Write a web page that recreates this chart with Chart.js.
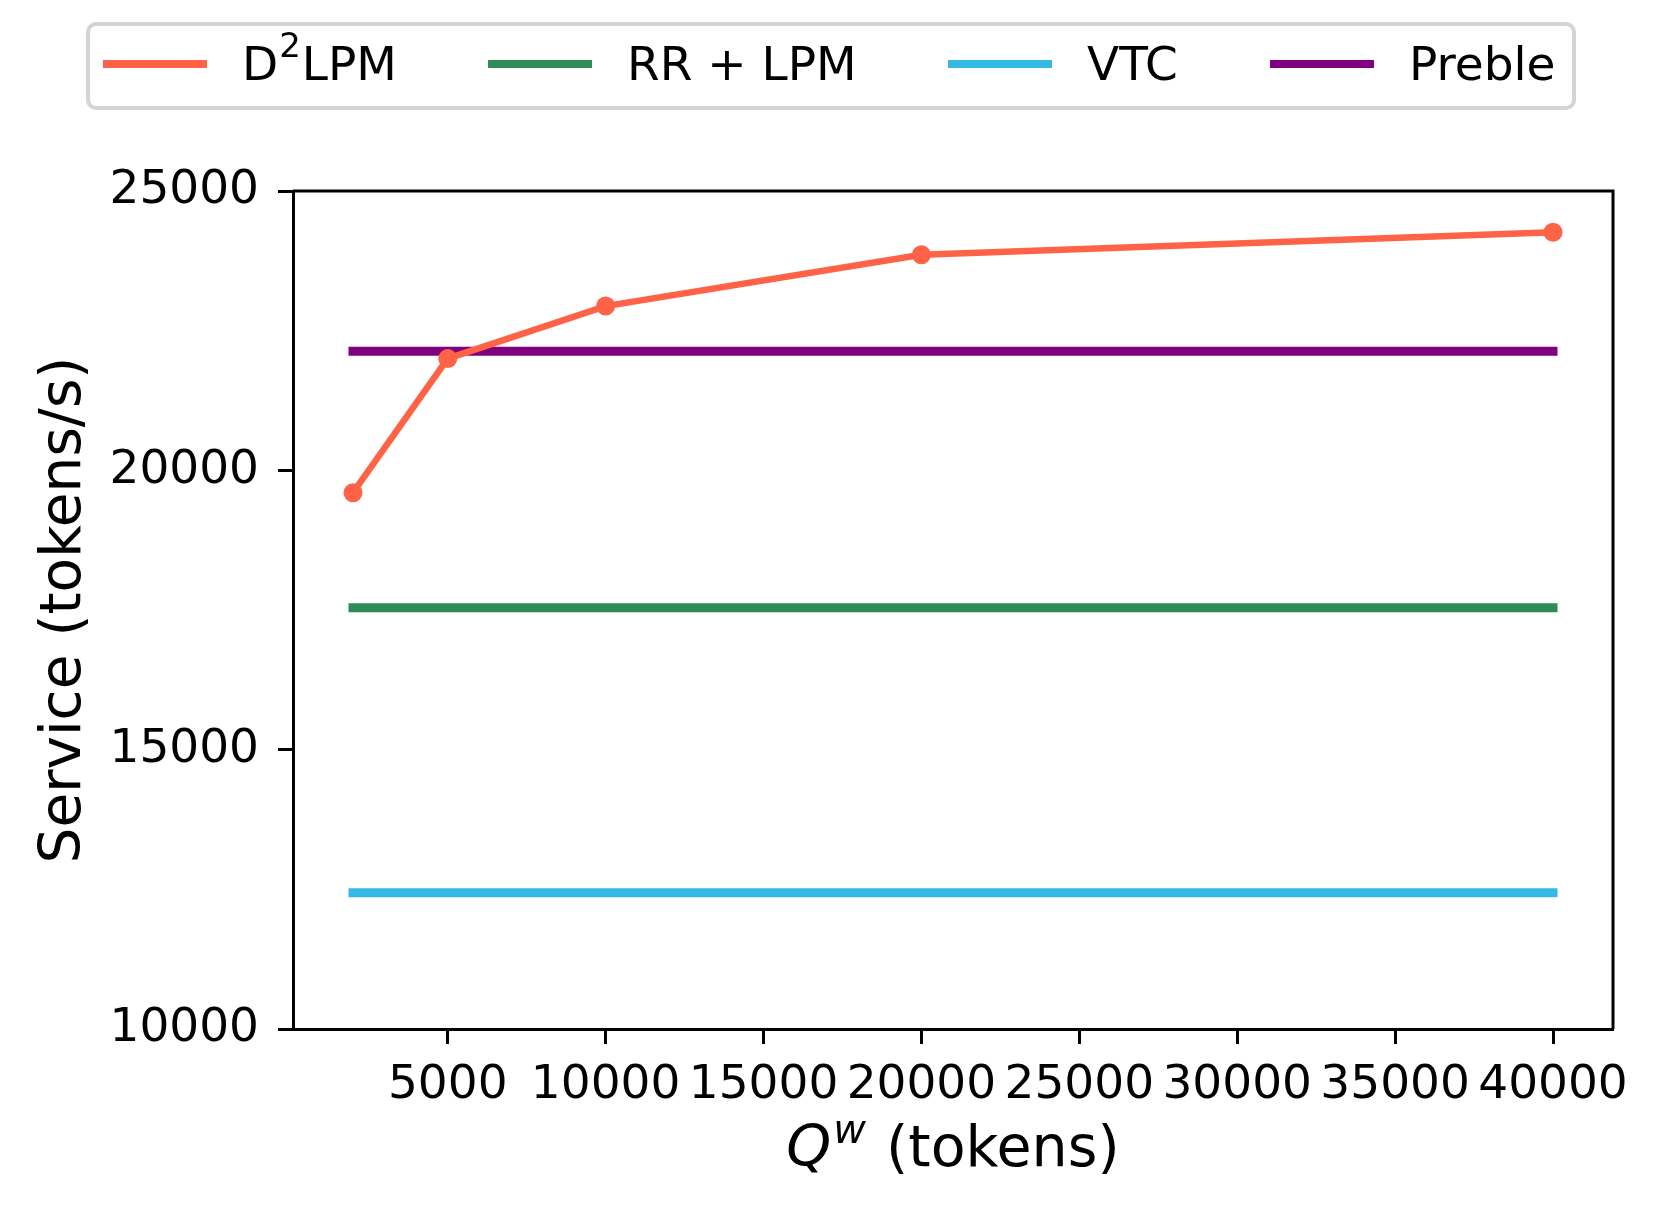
<!DOCTYPE html>
<html>
<head>
<meta charset="utf-8">
<script src="https://cdn.jsdelivr.net/npm/chart.js@4.4.1/dist/chart.umd.min.js"></script>
<style>
  html, body { margin: 0; padding: 0; background: #fff; }
</style>
</head>
<body>
<canvas id="myChart" width="1662" height="1220"></canvas>
<script>
// data
const qw = [2000, 5000, 10000, 20000, 40000];
const d2lpm = [19600, 22000, 22940, 23860, 24260];
const lineSpan = [2000, 40000];
const rrLpm = [17540, 17540];
const vtc = [12440, 12440];
const preble = [22130, 22130];
const xTicks = [5000, 10000, 15000, 20000, 25000, 30000, 35000, 40000];
const yTicks = [10000, 15000, 20000, 25000];

const FONT = "'DejaVu Sans', sans-serif";

const toPoints = (xs, ys) => xs.map((x, i) => ({ x: x, y: ys[i] }));

// frame on top/right like matplotlib spines
const framePlugin = {
    id: 'frame',
    afterDraw(chart) {
        const { ctx, chartArea: a } = chart;
        ctx.save();
        ctx.strokeStyle = '#000';
        ctx.lineWidth = 3;
        ctx.beginPath();
        ctx.moveTo(a.left, a.top);
        ctx.lineTo(a.right, a.top);
        ctx.lineTo(a.right, a.bottom);
        ctx.stroke();
        ctx.restore();
    }
};

// draws "D²LPM" style labels with a real raised, smaller superscript
function drawLabel(ctx, text, x, y) {
    const parts = text.split('²');
    const fN = '47px ' + FONT;
    const fS = '34px ' + FONT;
    let w = 0;
    parts.forEach((p, i) => {
        ctx.font = fN;
        ctx.fillText(p, x + w, y);
        w += ctx.measureText(p).width;
        if (i < parts.length - 1) {
            ctx.font = fS;
            ctx.fillText('2', x + w + 1, y - 20);
            w += ctx.measureText('2').width + 2;
        }
    });
    return w;
}

// legend box above the plot, 4 columns
const legendPlugin = {
    id: 'boxLegend',
    afterDraw(chart) {
        const ctx = chart.ctx;
        const items = chart.data.datasets;
        const cols = [103, 488, 948, 1270];
        const cy = 64;
        ctx.save();
        ctx.textBaseline = 'middle';
        ctx.textAlign = 'left';
        ctx.fillStyle = '#fff';
        ctx.strokeStyle = '#d4d4d4';
        ctx.lineWidth = 4;
        ctx.beginPath();
        ctx.roundRect(88, 24, 1486, 84, 8);
        ctx.fill();
        ctx.stroke();
        items.forEach((ds, i) => {
            const x = cols[i];
            ctx.strokeStyle = ds.borderColor;
            ctx.lineWidth = 8;
            ctx.beginPath();
            ctx.moveTo(x, cy);
            ctx.lineTo(x + 104, cy);
            ctx.stroke();
            ctx.fillStyle = '#000';
            drawLabel(ctx, ds.label, x + 139, cy + 4);
        });
        ctx.restore();
    }
};

// x title with italic Q and superscript w
const xTitlePlugin = {
    id: 'xTitle',
    afterDraw(chart) {
        const { ctx, chartArea: a } = chart;
        const base = 1166;
        ctx.save();
        ctx.fillStyle = '#000';
        ctx.textBaseline = 'alphabetic';
        ctx.textAlign = 'left';
        const fQ = 'italic 57px ' + FONT;
        const fW = 'italic 40px ' + FONT;
        const fT = '57px ' + FONT;
        const rest = ' (tokens)';
        ctx.font = fQ; const wQ = ctx.measureText('Q').width;
        ctx.font = fW; const wW = ctx.measureText('w').width;
        ctx.font = fT; const wT = ctx.measureText(rest).width;
        let x = (a.left + a.right) / 2 - (wQ + wW + 4 + wT) / 2;
        ctx.font = fQ; ctx.fillText('Q', x, base); x += wQ + 2;
        ctx.font = fW; ctx.fillText('w', x, base - 23); x += wW + 2;
        ctx.font = fT; ctx.fillText(rest, x, base);
        ctx.restore();
    }
};

const flat = (label, ys, color) => ({
    label: label,
    data: toPoints(lineSpan, ys),
    borderColor: color,
    backgroundColor: color,
    borderWidth: 9,
    pointRadius: 0,
    borderCapStyle: 'square'
});

new Chart(document.getElementById('myChart'), {
    type: 'line',
    data: {
        datasets: [
            {
                label: 'D²LPM',
                data: toPoints(qw, d2lpm),
                borderColor: '#FF6347',
                backgroundColor: '#FF6347',
                borderWidth: 6.5,
                pointRadius: 9.5,
                pointBorderWidth: 0,
                pointHoverRadius: 9.5
            },
            flat('RR + LPM', rrLpm, '#2E8B57'),
            flat('VTC', vtc, '#35B8E5'),
            flat('Preble', preble, '#800080')
        ]
    },
    options: {
        responsive: false,
        animation: false,
        events: [],
        layout: { padding: { top: 191, right: 49, left: 0, bottom: 0 } },
        plugins: {
            legend: { display: false },
            tooltip: { enabled: false }
        },
        scales: {
            x: {
                type: 'linear',
                min: 100,
                max: 41900,
                afterBuildTicks: s => { s.ticks = xTicks.map(v => ({ value: v })); },
                afterFit: s => { s.height = 191; },
                grid: { drawOnChartArea: false, drawTicks: true, tickLength: 15, tickWidth: 3, color: '#000' },
                border: { display: true, width: 3, color: '#000' },
                ticks: {
                    autoSkip: false,
                    maxRotation: 0,
                    minRotation: 0,
                    padding: 14,
                    color: '#000',
                    font: { family: FONT, size: 47 },
                    callback: v => String(v)
                },
                title: { display: false }
            },
            y: {
                min: 10000,
                max: 25000,
                afterBuildTicks: s => { s.ticks = yTicks.map(v => ({ value: v })); },
                afterFit: s => { s.width = 293; },
                grid: { drawOnChartArea: false, drawTicks: true, tickLength: 15, tickWidth: 3, color: '#000' },
                border: { display: true, width: 3, color: '#000' },
                ticks: {
                    padding: 19,
                    color: '#000',
                    font: { family: FONT, size: 47 },
                    callback: v => String(v)
                },
                title: {
                    display: true,
                    text: 'Service (tokens/s)',
                    color: '#000',
                    font: { family: FONT, size: 56.5 },
                    padding: { top: 31, bottom: 0 }
                }
            }
        }
    },
    plugins: [framePlugin, legendPlugin, xTitlePlugin]
});
</script>
</body>
</html>
